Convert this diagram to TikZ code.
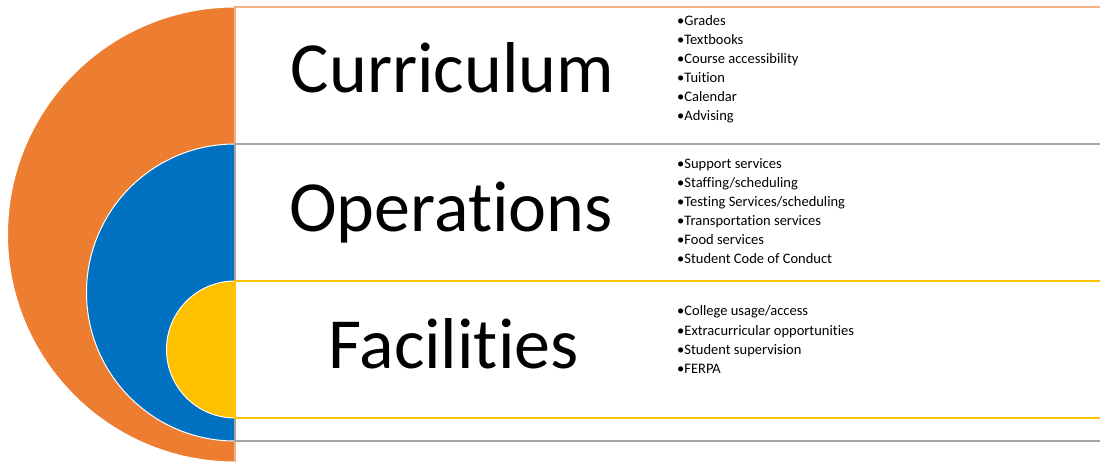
\documentclass[tikz,border=0pt]{standalone}
\usepackage{fontspec}
\setmainfont{Carlito}[Ligatures={NoCommon,NoRare}]

\definecolor{tgorange}{HTML}{ED7D31}
\definecolor{tglight}{HTML}{F4B183}
\definecolor{tgblue}{HTML}{0070C0}
\definecolor{tgyellow}{HTML}{FFC000}
\definecolor{tggray}{HTML}{A5A5A5}

\begin{document}
\begin{tikzpicture}[x=1pt,y=-1pt,
	disk/.style={draw=white,line width=1pt},
	band/.style={fill=white,line width=1.5pt},
	topic/.style={inner sep=0pt,anchor=base,font=\fontsize{72}{86}\selectfont},
	item/.style={inner sep=0pt,anchor=base west,font=\fontsize{14.5}{19}\selectfont}]
\useasboundingbox (0,0) rectangle (1100,462);
% nested half disks
\filldraw[disk,fill=tgorange] (235,7) arc (270:90:227.5) -- cycle;
\filldraw[disk,fill=tgblue] (235,144) arc (270:90:148.5) -- cycle;
\filldraw[disk,fill=tgyellow] (235,281) arc (270:90:68.5) -- cycle;
% nested bands
\draw[band,draw=tglight] (235,7) rectangle (1110,472);
\draw[band,draw=tggray,line width=2pt] (235,144) rectangle (1110,441);
\draw[band,draw=tgyellow] (235,281) rectangle (1110,418);
% titles
\node[topic] (curr) at (452.5,92.5) {Curriculum};
\node[topic] (oper) at (451,232) {Operations};
\node[topic] (faci) at (453.5,368) {Facilities};
% bullet lists
\foreach \t [count=\i] in {Grades,Textbooks,Course accessibility,Tuition,Calendar,Advising}{
	\node[item] (curr\i) at (677,{25.5+19*(\i-1)}) {•\t};
}
\foreach \t [count=\i] in {Support services,Staffing/scheduling,Testing Services/scheduling,Transportation services,Food services,Student Code of Conduct}{
	\node[item] (oper\i) at (677,{169+19*(\i-1)}) {•\t};
}
\foreach \t [count=\i] in {College usage/access,Extracurricular opportunities,Student supervision,FERPA}{
	\node[item] (faci\i) at (677,{316+19*(\i-1)}) {•\t};
}
\end{tikzpicture}
\end{document}
